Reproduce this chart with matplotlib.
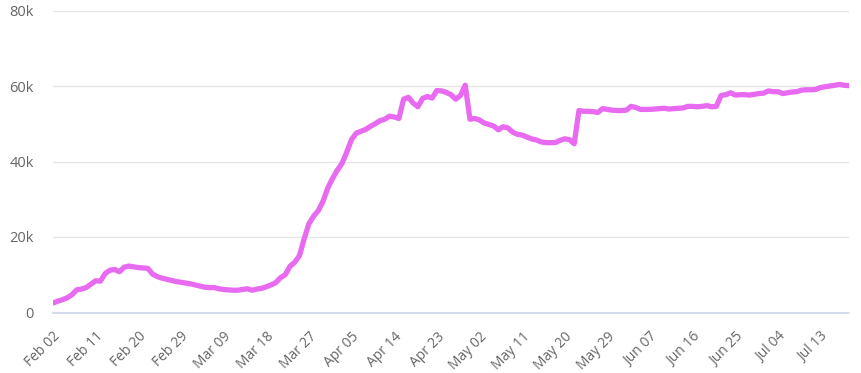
import matplotlib
matplotlib.use("Agg")
import matplotlib.pyplot as plt
import matplotlib.dates as mdates
import numpy as np
import pandas as pd

plt.rcParams["font.family"] = ["Open Sans", "DejaVu Sans"]

start_date = "2020-02-02"
values = [
    2500, 3000, 3400, 3900, 4700, 6000, 6200, 6600, 7500, 8400,
    8300, 10300, 11200, 11400, 10800, 12000, 12300, 12100, 11900, 11800,
    11700, 10200, 9500, 9100, 8800, 8500, 8200, 8000, 7800, 7600,
    7300, 7000, 6700, 6600, 6600, 6300, 6100, 6000, 5900, 5900,
    6100, 6300, 5900, 6200, 6400, 6800, 7300, 7900, 9200, 10000,
    12200, 13300, 15000, 19500, 23500, 25500, 27000, 29500, 33000, 35500,
    37700, 39500, 42500, 45800, 47500, 48000, 48500, 49300, 50000, 50800,
    51200, 52000, 51800, 51400, 56500, 57000, 55500, 54500, 56700, 57200,
    56800, 58800, 58700, 58300, 57700, 56500, 57500, 60200, 51200, 51400,
    51000, 50200, 49800, 49400, 48400, 49200, 48900, 47800, 47200, 47000,
    46500, 46000, 45700, 45200, 45000, 45000, 45000, 45600, 46000, 45800,
    44700, 53500, 53300, 53300, 53200, 53000, 54000, 53800, 53600, 53500,
    53500, 53600, 54600, 54300, 53800, 53800, 53800, 53900, 54000, 54100,
    53900, 54000, 54100, 54200, 54600, 54600, 54500, 54600, 54800, 54500,
    54600, 57500, 57700, 58200, 57600, 57700, 57700, 57600, 57800, 58000,
    58100, 58700, 58500, 58500, 58000, 58200, 58400, 58500, 58900, 59000,
    59000, 59100, 59600, 59800, 60000, 60200, 60400, 60200, 60100,
]
dates = pd.date_range(start_date, periods=len(values), freq="D")
tick_dates = pd.date_range(start_date, dates[-1], freq="9D")
y_ticks = [0, 20000, 40000, 60000, 80000]
y_labels = ["0", "20k", "40k", "60k", "80k"]

fig = plt.figure(figsize=(8.62, 3.73), dpi=100)
ax = fig.add_axes([53 / 862, 60.5 / 373, 796 / 862, 302 / 373])

ax.plot(dates, values, color="#e86af0", linewidth=3.8, solid_capstyle="round",
        solid_joinstyle="round", zorder=3)

ax.set_xlim(dates[0], dates[-1])
ax.set_ylim(0, 80000)
ax.set_yticks(y_ticks)
ax.set_yticklabels(y_labels)
ax.set_xticks(tick_dates)
ax.xaxis.set_major_formatter(mdates.DateFormatter("%b %d"))

ax.grid(axis="y", color="#e6e6e6", linewidth=1)
ax.set_axisbelow(True)
for side in ["top", "right", "left"]:
    ax.spines[side].set_visible(False)
ax.spines["bottom"].set_color("#ccd6eb")
ax.spines["bottom"].set_linewidth(1.2)

ax.tick_params(axis="y", length=0, pad=14, labelsize=10.5, labelcolor="#666666")
ax.tick_params(axis="x", length=0, pad=12, labelsize=10, labelcolor="#666666")
plt.setp(ax.get_xticklabels(), rotation=45, ha="right", rotation_mode="anchor")

fig.savefig("out.png", dpi=100)
